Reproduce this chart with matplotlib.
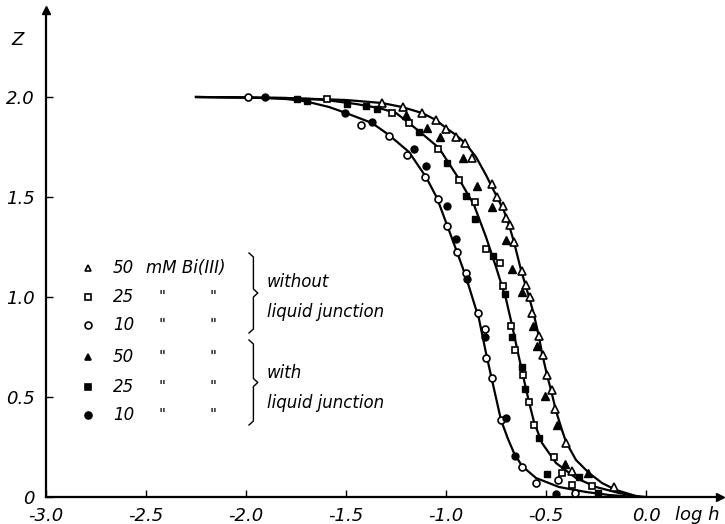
import matplotlib
matplotlib.use("Agg")
from matplotlib import pyplot as plt

plt.rcParams['font.family'] = ['DejaVu Sans']
plt.rcParams['font.style'] = 'italic'

# measured points, log h vs Z
# 10 mM, without liquid junction (open circles)
logh_10_open = [-1.99, -1.425, -1.285, -1.195, -1.105, -1.04, -0.995, -0.945, -0.9,
                -0.84, -0.805, -0.8, -0.77, -0.725, -0.62, -0.55, -0.44, -0.355]
z_10_open = [2.0, 1.86, 1.805, 1.71, 1.6, 1.49, 1.355, 1.225, 1.12,
             0.92, 0.84, 0.695, 0.595, 0.385, 0.15, 0.07, 0.085, 0.02]
# 10 mM, with liquid junction (filled circles)
logh_10_fill = [-1.905, -1.505, -1.37, -1.16, -1.1, -0.995, -0.95, -0.895, -0.805,
                -0.7, -0.655, -0.45]
z_10_fill = [2.0, 1.92, 1.875, 1.74, 1.655, 1.455, 1.29, 1.09, 0.8,
             0.395, 0.205, 0.015]
# 25 mM, without (open squares)
logh_25_open = [-1.595, -1.27, -1.185, -1.04, -0.935, -0.855, -0.8, -0.73, -0.715,
                -0.675, -0.655, -0.615, -0.585, -0.56, -0.46, -0.42, -0.37, -0.27]
z_25_open = [1.99, 1.92, 1.87, 1.74, 1.585, 1.475, 1.24, 1.17, 1.055,
             0.855, 0.735, 0.61, 0.475, 0.36, 0.2, 0.12, 0.06, 0.055]
# 25 mM, with (filled squares)
logh_25_fill = [-1.745, -1.695, -1.495, -1.4, -1.345, -1.135, -0.995, -0.9, -0.855,
                -0.765, -0.705, -0.67, -0.62, -0.605, -0.535, -0.495, -0.335, -0.24]
z_25_fill = [1.99, 1.98, 1.965, 1.955, 1.94, 1.825, 1.67, 1.505, 1.39,
             1.205, 1.015, 0.8, 0.65, 0.54, 0.295, 0.115, 0.1, 0.02]
# 50 mM, without (open triangles)
logh_50_open = [-1.32, -1.215, -1.12, -1.05, -1.0, -0.95, -0.905, -0.87, -0.77,
                -0.745, -0.715, -0.7, -0.68, -0.66, -0.62, -0.6, -0.58, -0.57,
                -0.535, -0.515, -0.495, -0.47, -0.455, -0.4, -0.37, -0.16]
z_50_open = [1.97, 1.95, 1.92, 1.885, 1.84, 1.8, 1.77, 1.695, 1.565,
             1.5, 1.455, 1.395, 1.36, 1.275, 1.13, 1.06, 1.0, 0.92,
             0.805, 0.71, 0.61, 0.535, 0.44, 0.27, 0.13, 0.05]
# 50 mM, with (filled triangles)
logh_50_fill = [-1.2, -1.095, -1.03, -0.915, -0.845, -0.77, -0.7, -0.67, -0.62,
                -0.565, -0.545, -0.505, -0.445, -0.405, -0.29]
z_50_fill = [1.91, 1.845, 1.8, 1.695, 1.555, 1.45, 1.285, 1.14, 1.025,
             0.855, 0.755, 0.505, 0.36, 0.165, 0.12]

# fitted curves
curve_10_x = [-2.25, -2.0, -1.8, -1.7, -1.585, -1.5, -1.37, -1.285, -1.185, -1.1,
              -1.045, -0.995, -0.945, -0.9, -0.835, -0.8, -0.77, -0.725, -0.69,
              -0.66, -0.62, -0.55, -0.435, -0.3, -0.185, -0.05]
curve_10_z = [2.0, 1.998, 1.99, 1.978, 1.95, 1.92, 1.87, 1.81, 1.725, 1.6,
              1.495, 1.36, 1.225, 1.1, 0.89, 0.72, 0.585, 0.385, 0.29,
              0.22, 0.155, 0.095, 0.05, 0.025, 0.01, 0.0]
curve_25_x = [-2.25, -1.8, -1.6, -1.45, -1.335, -1.25, -1.185, -1.1, -1.035, -0.935,
              -0.86, -0.8, -0.75, -0.7, -0.67, -0.64, -0.61, -0.585, -0.56, -0.52,
              -0.45, -0.35, -0.25, -0.135, -0.03]
curve_25_z = [2.0, 1.995, 1.985, 1.965, 1.945, 1.92, 1.87, 1.8, 1.745, 1.59,
              1.46, 1.3, 1.15, 0.99, 0.86, 0.72, 0.585, 0.475, 0.375, 0.27,
              0.17, 0.095, 0.05, 0.02, 0.0]
curve_50_x = [-2.25, -1.8, -1.5, -1.32, -1.22, -1.12, -1.05, -1.0, -0.95, -0.9,
              -0.85, -0.8, -0.745, -0.71, -0.685, -0.66, -0.625, -0.585, -0.56,
              -0.535, -0.52, -0.495, -0.475, -0.45, -0.42, -0.4, -0.35, -0.285,
              -0.22, -0.15, -0.05, 0.0]
curve_50_z = [2.0, 1.995, 1.985, 1.97, 1.95, 1.92, 1.885, 1.845, 1.81, 1.765,
              1.7, 1.61, 1.5, 1.43, 1.36, 1.275, 1.135, 1.0, 0.91,
              0.8, 0.72, 0.61, 0.535, 0.43, 0.335, 0.275, 0.185, 0.12,
              0.07, 0.035, 0.005, 0.0]

xticks = [-3.0, -2.5, -2.0, -1.5, -1.0, -0.5, 0.0]
xticklabels = ['-3.0', '-2.5', '-2.0', '-1.5', '-1.0', '-0.5', '0.0']
yticks = [0.0, 0.5, 1.0, 1.5, 2.0]
yticklabels = ['0', '0.5', '1.0', '1.5', '2.0']

fs = 13
fs_leg = 12
fig = plt.figure(figsize=(7.25, 5.24), dpi=100)
ax = fig.add_axes([46 / 725, 27 / 524, 674 / 725, 487 / 524])
ax.set_xlim(-3.0, 0.37)
ax.set_ylim(0, 2.435)

for sp in ['top', 'right']:
    ax.spines[sp].set_visible(False)
for sp in ['left', 'bottom']:
    ax.spines[sp].set_linewidth(1.6)

ax.set_xticks(xticks)
ax.set_xticklabels(xticklabels, fontsize=fs)
ax.set_yticks(yticks)
ax.set_yticklabels(yticklabels, fontsize=fs)
ax.tick_params(axis='both', direction='in', length=5, width=1.0)
ax.tick_params(axis='y', pad=8)
ax.tick_params(axis='x', pad=7)

# arrow heads at axis ends
ax.plot(0, 1, marker='^', color='k', markersize=6, transform=ax.transAxes, clip_on=False)
ax.plot(1, 0, marker='>', color='k', markersize=6, transform=ax.transAxes, clip_on=False)

ax.text(-3.14, 2.285, 'Z', fontsize=fs, ha='center', va='center')
ax.text(0.255, -0.09, 'log h', fontsize=fs, ha='center', va='center')

# curves
for cx, cz in [(curve_10_x, curve_10_z), (curve_25_x, curve_25_z), (curve_50_x, curve_50_z)]:
    ax.plot(cx, cz, color='k', lw=1.6, zorder=2)

ms = 5
mew = 1.2
ax.plot(logh_50_open, z_50_open, '^', ms=ms + 0.5, mfc='white', mec='k', mew=mew, ls='none', zorder=3)
ax.plot(logh_25_open, z_25_open, 's', ms=ms - 0.5, mfc='white', mec='k', mew=mew, ls='none', zorder=3)
ax.plot(logh_10_open, z_10_open, 'o', ms=ms, mfc='white', mec='k', mew=mew, ls='none', zorder=3)
ax.plot(logh_50_fill, z_50_fill, '^', ms=ms + 0.5, color='k', ls='none', zorder=3)
ax.plot(logh_25_fill, z_25_fill, 's', ms=ms, color='k', ls='none', zorder=3)
ax.plot(logh_10_fill, z_10_fill, 'o', ms=ms, color='k', ls='none', zorder=3)

# hand made legend
rows = [1.145, 1.0, 0.86, 0.70, 0.55, 0.41]
leg_markers = [('^', 'white'), ('s', 'white'), ('o', 'white'),
               ('^', 'k'), ('s', 'k'), ('o', 'k')]
leg_num = ['50', '25', '10', '50', '25', '10']
for r, (m, fc), num in zip(rows, leg_markers, leg_num):
    ax.plot(-2.79, r, m, ms=ms, mfc=fc, mec='k', mew=mew, ls='none')
    ax.text(-2.665, r, num, fontsize=fs_leg, va='center', ha='left')
    if r == rows[0]:
        ax.text(-2.5, r, 'mM Bi(III)', fontsize=fs_leg, va='center', ha='left')
    else:
        ax.text(-2.42, r, '"', fontsize=11, va='center', ha='center')
        ax.text(-2.165, r, '"', fontsize=11, va='center', ha='center')


def brace(x0, top, bot):
    mid = (top + bot) / 2
    w = 0.022
    xs = [x0, x0 + w, x0 + w, x0 + 2 * w, x0 + w, x0 + w, x0]
    ys = [top, top - 0.02, mid + 0.02, mid, mid - 0.02, bot + 0.02, bot]
    ax.plot(xs, ys, color='k', lw=1.0)


brace(-1.985, 1.22, 0.82)
brace(-1.985, 0.785, 0.36)
ax.text(-1.895, 1.075, 'without', fontsize=fs_leg, va='center', ha='left')
ax.text(-1.895, 0.925, 'liquid junction', fontsize=fs_leg, va='center', ha='left')
ax.text(-1.895, 0.62, 'with', fontsize=fs_leg, va='center', ha='left')
ax.text(-1.895, 0.47, 'liquid junction', fontsize=fs_leg, va='center', ha='left')

fig.savefig('out.png', dpi=100)
